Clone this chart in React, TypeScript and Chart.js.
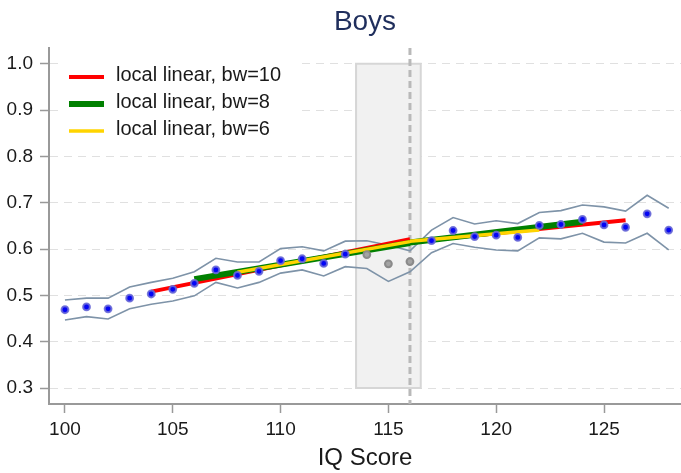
import { useEffect, useRef } from "react";
import { Chart, registerables } from "chart.js";

Chart.register(...registerables);

// Bin centres (IQ score) and the mean outcome in each bin
const iqScores = [100, 101, 102, 103, 104, 105, 106, 107, 108, 109, 110, 111, 112, 113, 114, 115, 116, 117, 118, 119, 120, 121, 122, 123, 124, 125, 126, 127, 128];
const binMeans = [0.469, 0.475, 0.471, 0.494, 0.503, 0.513, 0.526, 0.555, 0.543, 0.552, 0.575, 0.579, 0.569, 0.589, 0.588, 0.568, 0.573, 0.618, 0.640, 0.627, 0.630, 0.625, 0.651, 0.653, 0.664, 0.652, 0.647, 0.676, 0.641];
const upperCI = [0.490, 0.494, 0.494, 0.518, 0.528, 0.537, 0.551, 0.580, 0.572, 0.572, 0.601, 0.605, 0.596, 0.617, 0.618, 0.608, 0.596, 0.641, 0.668, 0.654, 0.661, 0.655, 0.679, 0.683, 0.695, 0.691, 0.682, 0.716, 0.688];
const lowerCI = [0.447, 0.454, 0.449, 0.471, 0.481, 0.488, 0.499, 0.528, 0.516, 0.528, 0.548, 0.555, 0.542, 0.562, 0.558, 0.530, 0.551, 0.592, 0.612, 0.604, 0.598, 0.596, 0.624, 0.622, 0.634, 0.615, 0.613, 0.634, 0.598];

// Bins left out of the estimation (donut hole) and the threshold
const excludedBins = [114, 115, 116];
const donutHole = [113.5, 116.5];
const threshold = 116;

// Local linear fits, each side of the threshold
const bw10LeftX = [104, 116];
const bw10LeftY = [0.508, 0.621];
const bw10RightX = [116, 126];
const bw10RightY = [0.615, 0.662];

const bw8LeftX = [106, 116];
const bw8LeftY = [0.535, 0.613];
const bw8RightX = [116, 124];
const bw8RightY = [0.614, 0.659];

const bw6LeftX = [108, 116];
const bw6LeftY = [0.550, 0.616];
const bw6RightX = [116, 122];
const bw6RightY = [0.617, 0.641];

// Axis ticks
const xTicks = [100, 105, 110, 115, 120, 125];
const yTicks = [0.3, 0.4, 0.5, 0.6, 0.7, 0.8, 0.9, 1.0];

const chartTitle = "Boys";
const legendLabels = ["local linear, bw=10", "local linear, bw=8", "local linear, bw=6"];
const fitColors = ["#ff0000", "#008000", "#ffd400"];
const fitWidths = [4, 6, 3.5];

const FONT = "'Liberation Sans', Arial, Helvetica, sans-serif";

function toPoints(xs: number[], ys: number[]) {
  return xs.map((x, i) => ({ x, y: ys[i] }));
}

function splitFit(lx: number[], ly: number[], rx: number[], ry: number[]) {
  return [...toPoints(lx, ly), { x: threshold, y: null }, ...toPoints(rx, ry)];
}

const donutPlugin = {
  id: "donutHole",
  beforeDatasetsDraw(chart: any) {
    const { ctx, chartArea, scales } = chart;
    const x0 = scales.x.getPixelForValue(donutHole[0]);
    const x1 = scales.x.getPixelForValue(donutHole[1]);
    const yTop = scales.y.getPixelForValue(yTicks[yTicks.length - 1]);
    const yBot = scales.y.getPixelForValue(yTicks[0]);
    ctx.save();
    ctx.fillStyle = "#f1f1f1";
    ctx.fillRect(x0, yTop, x1 - x0, yBot - yTop);
    ctx.strokeStyle = "#d6d6d6";
    ctx.lineWidth = 2;
    ctx.strokeRect(x0, yTop, x1 - x0, yBot - yTop);
    const xc = scales.x.getPixelForValue(threshold);
    ctx.strokeStyle = "#b9b9b9";
    ctx.lineWidth = 3;
    ctx.setLineDash([7, 4]);
    ctx.beginPath();
    ctx.moveTo(xc, chartArea.top);
    ctx.lineTo(xc, chartArea.bottom);
    ctx.stroke();
    ctx.restore();
  },
};

const legendPlugin = {
  id: "fitLegend",
  afterDraw(chart: any) {
    const { ctx, chartArea } = chart;
    const left = chartArea.left;
    const top = chartArea.top;
    ctx.save();
    // title centred over the plotting area
    ctx.fillStyle = "#1f2e5c";
    ctx.font = `28px ${FONT}`;
    ctx.textAlign = "center";
    ctx.textBaseline = "alphabetic";
    ctx.fillText(chartTitle, (chartArea.left + chartArea.right) / 2, 29.5);

    ctx.fillStyle = "#ffffff";
    ctx.fillRect(left + 9, top + 7, 239, 95);
    ctx.font = `20px ${FONT}`;
    ctx.textBaseline = "middle";
    ctx.textAlign = "left";
    legendLabels.forEach((label, i) => {
      const y = top + 29 + i * 27;
      ctx.strokeStyle = fitColors[i];
      ctx.lineWidth = fitWidths[i];
      ctx.beginPath();
      ctx.moveTo(left + 20, y);
      ctx.lineTo(left + 55, y);
      ctx.stroke();
      ctx.fillStyle = "#1a1a1a";
      ctx.fillText(label, left + 67, y - 2);
    });
    ctx.restore();
  },
};

export default function App() {
  const canvasRef = useRef<HTMLCanvasElement | null>(null);

  useEffect(() => {
    const canvas = canvasRef.current;
    if (!canvas) return;

    const isExcluded = (c: any) => {
      const p = c.raw;
      return p && excludedBins.includes(p.x);
    };

    const chart = new Chart(canvas, {
      type: "scatter",
      data: {
        datasets: [
          {
            label: "bin means",
            data: toPoints(iqScores, binMeans),
            showLine: false,
            pointRadius: 3.4,
            pointBorderWidth: 2,
            pointBackgroundColor: (c: any) => (isExcluded(c) ? "#a3a3a3" : "#0505f5"),
            pointBorderColor: (c: any) => (isExcluded(c) ? "#8a8a8a" : "rgba(105,105,215,0.9)"),
            order: 0,
          },
          {
            label: legendLabels[2],
            data: splitFit(bw6LeftX, bw6LeftY, bw6RightX, bw6RightY),
            showLine: true,
            borderColor: fitColors[2],
            borderWidth: fitWidths[2],
            pointRadius: 0,
            spanGaps: false,
            order: 1,
          },
          {
            label: legendLabels[1],
            data: splitFit(bw8LeftX, bw8LeftY, bw8RightX, bw8RightY),
            showLine: true,
            borderColor: fitColors[1],
            borderWidth: fitWidths[1],
            pointRadius: 0,
            spanGaps: false,
            order: 2,
          },
          {
            label: legendLabels[0],
            data: splitFit(bw10LeftX, bw10LeftY, bw10RightX, bw10RightY),
            showLine: true,
            borderColor: fitColors[0],
            borderWidth: fitWidths[0],
            pointRadius: 0,
            spanGaps: false,
            order: 3,
          },
          {
            label: "upper",
            data: toPoints(iqScores, upperCI),
            showLine: true,
            borderColor: "#7e93a8",
            borderWidth: 1.6,
            pointRadius: 0,
            order: 4,
          },
          {
            label: "lower",
            data: toPoints(iqScores, lowerCI),
            showLine: true,
            borderColor: "#7e93a8",
            borderWidth: 1.6,
            pointRadius: 0,
            order: 5,
          },
        ],
      },
      options: {
        responsive: false,
        animation: false,
        devicePixelRatio: 1,
        layout: { autoPadding: false, padding: { left: 0, right: 0, top: 48, bottom: 0 } },
        plugins: {
          legend: { display: false },
          tooltip: { enabled: false },
          title: { display: false },
        },
        scales: {
          x: {
            type: "linear",
            min: 99.26,
            max: 128.57,
            afterBuildTicks: (s: any) => {
              s.ticks = xTicks.map((v) => ({ value: v }));
            },
            afterFit: (s: any) => {
              s.height = 69;
              s.paddingLeft = 0;
              s.paddingRight = 0;
            },
            ticks: {
              color: "#1a1a1a",
              font: { family: FONT, size: 19 },
              padding: 5,
              maxRotation: 0,
              autoSkip: false,
              callback: (v: any) => String(v),
            },
            grid: {
              drawOnChartArea: false,
              drawTicks: true,
              tickLength: 9,
              tickColor: "#999999",
              tickWidth: 1.5,
            },
            border: { color: "#999999", width: 2 },
            title: {
              display: true,
              text: "IQ Score",
              color: "#1a1a1a",
              font: { family: FONT, size: 24 },
              padding: { top: 0, bottom: 0 },
            },
          },
          y: {
            type: "linear",
            min: 0.2655,
            max: 1.034,
            afterBuildTicks: (s: any) => {
              s.ticks = yTicks.map((v) => ({ value: v }));
            },
            afterFit: (s: any) => {
              s.width = 49;
              s.paddingTop = 0;
              s.paddingBottom = 0;
            },
            ticks: {
              color: "#1a1a1a",
              font: { family: FONT, size: 19 },
              padding: 7,
              callback: (v: any) => Number(v).toFixed(1),
            },
            grid: {
              color: "#e0e0e0",
              lineWidth: 1,
              tickLength: 9,
              tickColor: "#999999",
              tickWidth: 1.5,
            },
            border: { color: "#999999", width: 2, dash: [8, 6] },
          },
        },
      },
      plugins: [donutPlugin, legendPlugin],
    } as any);

    return () => chart.destroy();
  }, []);

  return (
    <div style={{ position: "fixed", left: 0, top: 0, width: 681, height: 473, background: "#ffffff" }}>
      <canvas ref={canvasRef} width={681} height={473} style={{ display: "block" }} />
    </div>
  );
}
